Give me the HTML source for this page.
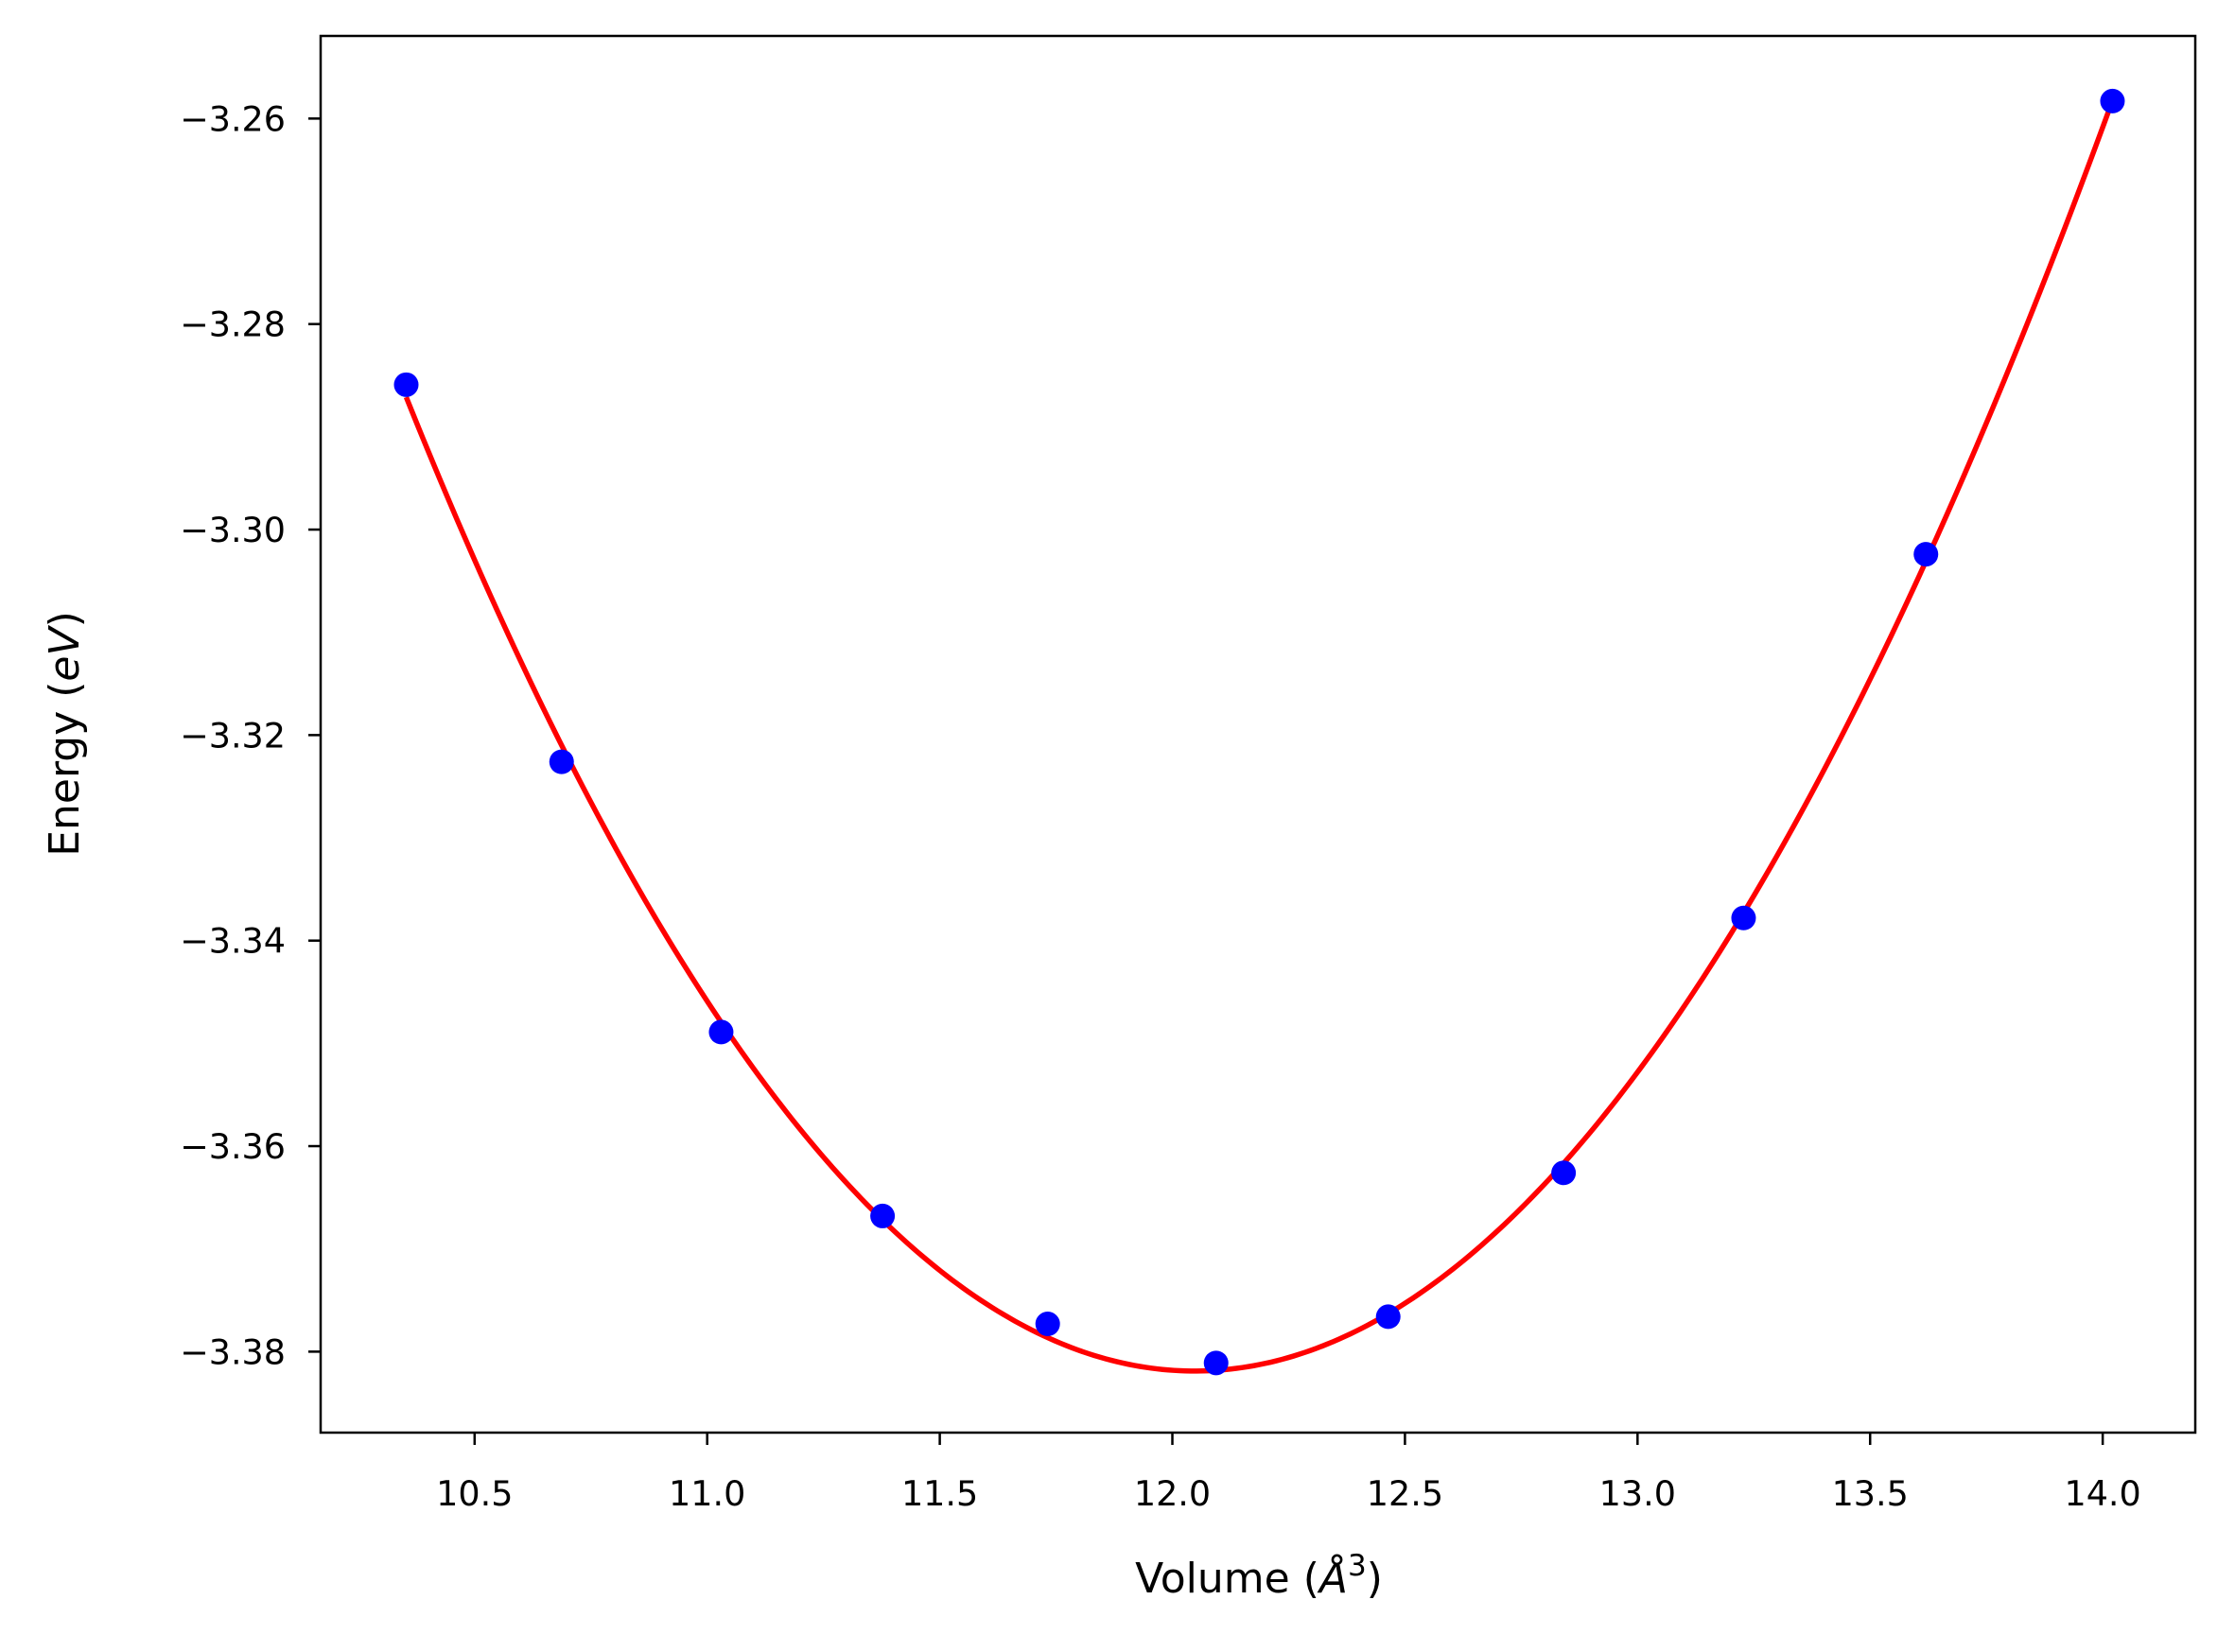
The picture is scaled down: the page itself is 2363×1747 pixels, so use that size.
<!DOCTYPE html>
<html><head><meta charset="utf-8"><style>
html,body{margin:0;padding:0;background:#fff;}
svg{display:block;font-family:"DejaVu Sans","Liberation Sans",sans-serif;}
</style></head><body>
<svg id="chart" width="2363" height="1747" viewBox="0 0 2363 1747" xmlns="http://www.w3.org/2000/svg">
<rect width="2363" height="1747" fill="#fff"/>
<g id="plot"></g>
</svg>
<script>
const volumes = [10.353, 10.687, 11.030, 11.377, 11.732, 12.094, 12.464, 12.841, 13.228, 13.620, 14.021];
const energies = [-3.2859, -3.3226, -3.3489, -3.3668, -3.3773, -3.3811, -3.3766, -3.3626, -3.3378, -3.3024, -3.2583];
const xTicks = [10.5, 11.0, 11.5, 12.0, 12.5, 13.0, 13.5, 14.0];
const xTickLabels = ["10.5", "11.0", "11.5", "12.0", "12.5", "13.0", "13.5", "14.0"];
const yTicks = [-3.26, -3.28, -3.30, -3.32, -3.34, -3.36, -3.38];
const yTickLabels = ["\u22123.26", "\u22123.28", "\u22123.30", "\u22123.32", "\u22123.34", "\u22123.36", "\u22123.38"];
const xDomain = [10.169, 14.199];
const yDomain = [-3.38788, -3.25196];

const L = 339, R = 2321, T = 38, B = 1515;
const NS = "http://www.w3.org/2000/svg";
const g = document.getElementById('plot');
function sx(v){ return L + (v - xDomain[0]) / (xDomain[1] - xDomain[0]) * (R - L); }
function sy(v){ return B - (v - yDomain[0]) / (yDomain[1] - yDomain[0]) * (B - T); }
function mk(tag, attrs){ const e = document.createElementNS(NS, tag); for (const k in attrs) e.setAttribute(k, attrs[k]); g.appendChild(e); return e; }

function fit(xs, ys, deg){
  const n = deg + 1, x0 = 12;
  const A = [], b = [];
  for (let i = 0; i < n; i++){ A.push(new Array(n).fill(0)); b.push(0); }
  xs.forEach((x, k) => { const t = x - x0;
    for (let i = 0; i < n; i++){ b[i] += ys[k] * Math.pow(t, i);
      for (let j = 0; j < n; j++) A[i][j] += Math.pow(t, i + j); } });
  for (let i = 0; i < n; i++){ for (let r = i + 1; r < n; r++){ const f = A[r][i] / A[i][i];
    for (let c = i; c < n; c++) A[r][c] -= f * A[i][c]; b[r] -= f * b[i]; } }
  const c = new Array(n).fill(0);
  for (let i = n - 1; i >= 0; i--){ let s = b[i]; for (let j = i + 1; j < n; j++) s -= A[i][j] * c[j]; c[i] = s / A[i][i]; }
  return x => c.reduce((s, ci, i) => s + ci * Math.pow(x - x0, i), 0);
}
const f = fit(volumes, energies, 3);
let d = '';
const v0 = volumes[0], v1 = volumes[volumes.length - 1];
for (let i = 0; i <= 300; i++){ const v = v0 + (v1 - v0) * i / 300; d += (i ? 'L' : 'M') + sx(v).toFixed(2) + ',' + sy(f(v)).toFixed(2); }
const curve = mk('path', {d: d, fill: 'none', stroke: '#ff0000', 'stroke-width': 5.5});



volumes.forEach((v, i) => {
  const c = mk('circle', {cx: sx(v), cy: sy(energies[i]), r: 13, fill: '#0000ff'});
  
  
});

const frame = mk('rect', {x: L, y: T, width: R - L, height: B - T, fill: 'none', stroke: '#000', 'stroke-width': 2.5});



xTicks.forEach((v, i) => {
  const x = sx(v);
  const t = mk('line', {x1: x, x2: x, y1: B, y2: B + 13, stroke: '#000', 'stroke-width': 2.5});
  
  
  const lb = mk('text', {x: x, y: 1592, 'font-size': 36.5, 'text-anchor': 'middle', fill: '#000'});
  lb.textContent = xTickLabels[i];
  
  
});
yTicks.forEach((v, i) => {
  const y = sy(v);
  const t = mk('line', {x1: L - 13, x2: L, y1: y, y2: y, stroke: '#000', 'stroke-width': 2.5});
  
  
  const lb = mk('text', {x: 302, y: y + 13, 'font-size': 36.5, 'text-anchor': 'end', fill: '#000'});
  lb.textContent = yTickLabels[i];
  
  
});

const xl = mk('text', {x: 1331, y: 1684, 'font-size': 44, 'text-anchor': 'middle', fill: '#000'});
xl.innerHTML = 'Volume (<tspan font-style="italic">Å</tspan><tspan font-size="31" dy="-18">3</tspan><tspan dy="18">)</tspan>';



const yl = mk('text', {x: 0, y: 0, 'font-size': 44, 'text-anchor': 'middle', fill: '#000', transform: 'translate(83,776) rotate(-90)'});
yl.innerHTML = 'Energy (<tspan font-style="italic">eV</tspan>)';


</script>
</body></html>
